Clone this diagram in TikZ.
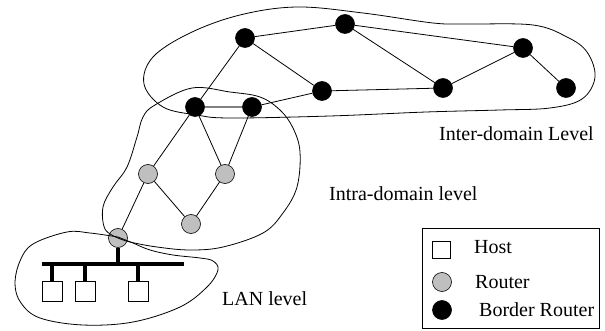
\documentclass[tikz,border=0pt]{standalone}
\usepackage{fontspec}
\setmainfont{Liberation Serif}
\usetikzlibrary{backgrounds}
\begin{document}
\begin{tikzpicture}[x=1pt,y=-1pt,
  edge/.style={line width=0.8pt},
  blob/.style={line width=0.8pt},
  border/.style={circle,fill=black,draw=black,line width=0.6pt,minimum size=19pt,inner sep=0pt},
  router/.style={circle,fill=black!25,draw=black,line width=0.6pt,minimum size=19pt,inner sep=0pt},
  host/.style={rectangle,fill=white,draw=black,line width=0.7pt,minimum width=20pt,minimum height=20pt,inner sep=0pt},
  bus/.style={line width=4pt},
  lbl/.style={font=\fontsize{20}{24}\selectfont,inner sep=0pt,anchor=base west}]
\useasboundingbox (0,0) rectangle (605,331);
% border routers
\node[border] (A) at (245,38) {};
\node[border] (B) at (345,24) {};
\node[border] (C) at (322,91) {};
\node[border] (D) at (195,107) {};
\node[border] (E) at (252,107) {};
\node[border] (F) at (443,88) {};
\node[border] (G) at (523,48) {};
\node[border] (H) at (566,88) {};
% routers
\node[router] (R1) at (148,174) {};
\node[router] (R2) at (225,174) {};
\node[router] (R3) at (191,224) {};
\node[router] (R4) at (118,238) {};
% hosts
\node[host] (h1) at (52,291) {};
\node[host] (h2) at (85,291) {};
\node[host] (h3) at (138,291) {};
\coordinate (busL) at (42,264);
\coordinate (busR) at (184,264);
% edges and LAN bus behind the nodes
\begin{scope}[on background layer]
\draw[edge] (A) -- (B);
\draw[edge] (A) -- (C);
\draw[edge] (A) -- (D);
\draw[edge] (B) -- (G);
\draw[edge] (B) -- (F);
\draw[edge] (G) -- (F);
\draw[edge] (G) -- (H);
\draw[edge] (C) -- (F);
\draw[edge] (C) -- (E);
\draw[line width=2pt,black!50] (D) -- (E);
\draw[edge] (D) -- (R1);
\draw[edge] (D) -- (R2);
\draw[edge] (E) -- (R2);
\draw[edge] (R1) -- (R3);
\draw[edge] (R2) -- (R3);
\draw[edge] (R1) -- (R4);
\draw[bus] (busL) -- (busR);
\draw[bus] (R4.south) -- (R4.south |- busL);
\draw[bus] (h1.north) -- (h1.north |- busL);
\draw[bus] (h2.north) -- (h2.north |- busL);
\draw[bus] (h3.north) -- (h3.north |- busL);
\end{scope}
% inter-domain blob
\draw[blob] plot[smooth cycle,tension=0.6] coordinates {
 (144,84) (153,57) (190,33) (240,15) (297,7) (363,13) (433,23) (467,24)
 (533,25) (567,37) (587,52) (595,77) (582,99) (550,108) (500,110)
 (426,112) (330,116) (230,118) (197,115) (163,107)};
% intra-domain blob
\draw[blob] plot[smooth,tension=0.6] coordinates {
 (118,238) (105,229) (103,207) (113,187) (127,167) (137,137) (143,117)
 (155,105) (192,88) (230,92) (260,97) (280,110) (293,128) (300,152)
 (297,187) (283,213) (263,233) (223,247) (190,250) (157,247) (130,242) (118,238)};
% LAN blob
\draw[blob] plot[smooth,tension=0.6] coordinates {
 (118,237) (90,233) (67,232) (33,244) (20,261) (15,284) (21,303)
 (40,318) (83,325) (133,322) (180,307) (207,287) (218,270) (213,261)
 (200,258) (173,255) (150,250) (133,243) (118,237)};
% labels
\node[lbl] (l1) at (439,141) {Inter-domain Level};
\node[lbl] (l2) at (329,201) {Intra-domain level};
\node[lbl] (l3) at (222,305) {LAN level};
% legend
\node[draw=black,line width=0.8pt,minimum width=177pt,minimum height=100pt,inner sep=0pt,anchor=north west] (leg) at (422,228) {};
\node[rectangle,fill=white,draw=black,line width=0.7pt,minimum width=18pt,minimum height=17pt,inner sep=0pt] (lh) at (441.5,249.5) {};
\node[router] (lr) at (442,282) {};
\node[border] (lb) at (442,310) {};
\node[lbl] (th) at (474,254) {Host};
\node[lbl] (tr) at (475,288) {Router};
\node[lbl] (tb) at (479,316) {Border Router};
\end{tikzpicture}
\end{document}
